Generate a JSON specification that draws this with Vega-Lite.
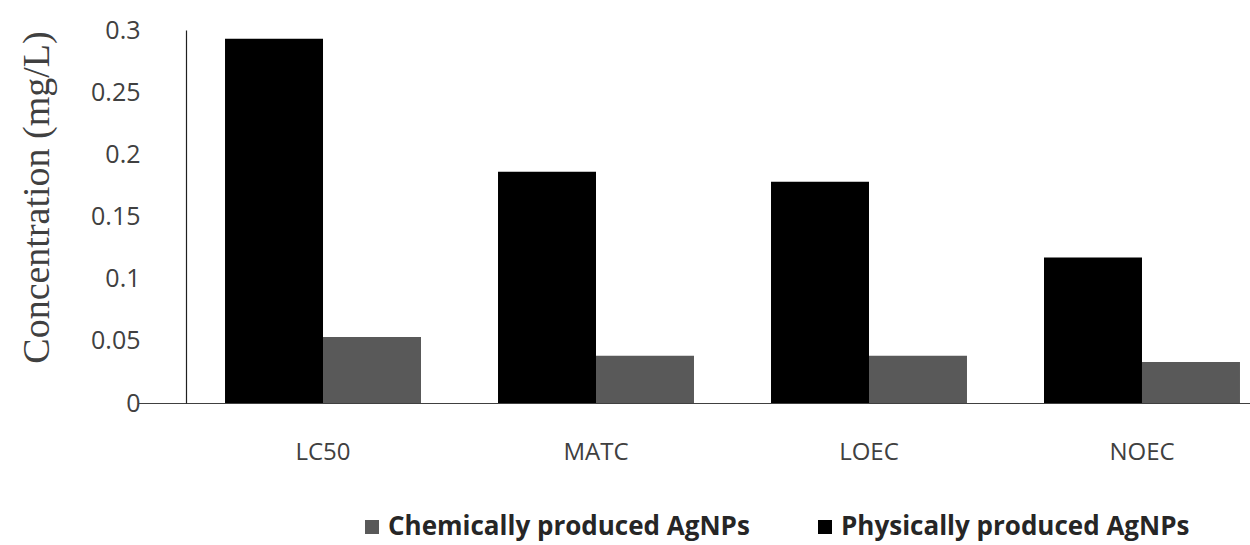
{
  "$schema": "https://vega.github.io/schema/vega-lite/v6.json",
  "autosize": "none",
  "width": 1189,
  "height": 373,
  "padding": {"left": 138, "top": 30, "right": 0, "bottom": 142},
  "background": "white",
  "config": {"view": {"stroke": null}},
  "data": {
    "values": [
      {"metric": "LC50", "series": "Physically produced AgNPs", "value": 0.293},
      {"metric": "LC50", "series": "Chemically produced AgNPs", "value": 0.053},
      {"metric": "MATC", "series": "Physically produced AgNPs", "value": 0.186},
      {"metric": "MATC", "series": "Chemically produced AgNPs", "value": 0.038},
      {"metric": "LOEC", "series": "Physically produced AgNPs", "value": 0.178},
      {"metric": "LOEC", "series": "Chemically produced AgNPs", "value": 0.038},
      {"metric": "NOEC", "series": "Physically produced AgNPs", "value": 0.117},
      {"metric": "NOEC", "series": "Chemically produced AgNPs", "value": 0.033}
    ]
  },
  "mark": {"type": "bar"},
  "encoding": {
    "x": {
      "field": "metric",
      "type": "nominal",
      "sort": ["LC50", "MATC", "LOEC", "NOEC"],
      "scale": {"paddingInner": 0, "paddingOuter": 0.1777},
      "axis": {
        "title": null,
        "labelAngle": 0,
        "ticks": false,
        "domainColor": "#404040",
        "domainWidth": 1.2,
        "labelFont": "Open Sans",
        "labelFontSize": 24,
        "labelColor": "#404040",
        "labelPadding": 37
      }
    },
    "xOffset": {
      "field": "series",
      "type": "nominal",
      "sort": ["Physically produced AgNPs", "Chemically produced AgNPs"],
      "scale": {"paddingInner": 0, "paddingOuter": 0.393}
    },
    "y": {
      "field": "value",
      "type": "quantitative",
      "scale": {"domain": [0, 0.3], "nice": false},
      "axis": {
        "title": "Concentration (mg/L)",
        "titleFont": "Liberation Serif",
        "titleFontSize": 38,
        "titleFontWeight": "normal",
        "titleColor": "#404040",
        "titlePadding": 34,
        "titleY": 167,
        "values": [0, 0.05, 0.1, 0.15, 0.2, 0.25, 0.3],
        "labelExpr": "'' + datum.value",
        "grid": false,
        "ticks": false,
        "offset": -48,
        "labelPadding": 46,
        "labelFont": "Open Sans",
        "labelFontSize": 25,
        "labelColor": "#404040",
        "domainColor": "#202020",
        "domainWidth": 1.2
      }
    },
    "color": {
      "field": "series",
      "type": "nominal",
      "scale": {
        "domain": ["Chemically produced AgNPs", "Physically produced AgNPs"],
        "range": ["#595959", "#000000"]
      },
      "legend": {
        "title": null,
        "orient": "none",
        "direction": "horizontal",
        "legendX": 221,
        "legendY": 484,
        "symbolType": "square",
        "symbolSize": 196,
        "symbolStrokeWidth": 0,
        "labelFont": "Open Sans",
        "labelFontSize": 26,
        "labelFontWeight": "bold",
        "labelColor": "#262626",
        "labelLimit": 0,
        "columnPadding": 62,
        "labelOffset": 3
      }
    }
  }
}
